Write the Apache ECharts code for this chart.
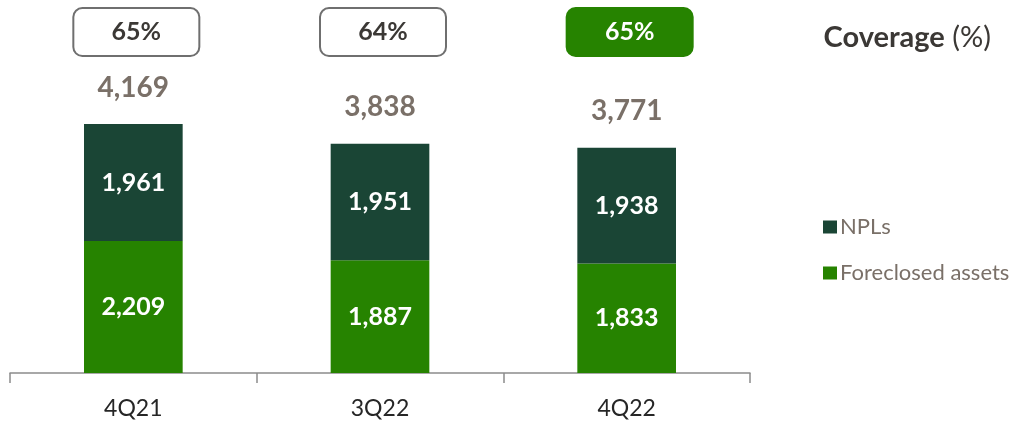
<!DOCTYPE html>
<html><head><meta charset="utf-8">
<script src="https://cdn.jsdelivr.net/npm/echarts@6/dist/echarts.min.js"></script>
<style>html,body{margin:0;padding:0;background:#fff}#c{width:1012px;height:426px}</style>
</head><body><div id="c"></div>
<script>
var categories = ['4Q21', '3Q22', '4Q22'];
var foreclosed = [2209, 1887, 1833];
var npls = [1961, 1951, 1938];
var totals = [4169, 3838, 3771];
var coverage = [65, 64, 65];
var coverageLevel = 5709;

var fmt = function (v) { return v.toLocaleString('en-US'); };
var chart = echarts.init(document.getElementById('c'));
var F = 'Lato, "Noto Sans", sans-serif';
chart.setOption({
  animation: false,
  textStyle: { fontFamily: F },
  title: {
    text: '{b|Coverage}{n| (%)}', right: 16, top: 18,
    textStyle: { rich: {
      b: { fontFamily: F, fontWeight: 'bold', fontSize: 29, color: '#3b3835' },
      n: { fontFamily: F, fontWeight: 'normal', fontSize: 29, color: '#3b3835' }
    } }
  },
  legend: {
    orient: 'vertical', left: 818, top: 211, itemWidth: 14, itemHeight: 13, itemGap: 24,
    icon: 'rect', data: ['NPLs', 'Foreclosed assets'],
    textStyle: { fontFamily: F, fontSize: 22, color: '#7a7068', padding: [0, 0, 0, -2] }
  },
  grid: { left: 10, right: 262, top: 26.6, bottom: 53 },
  xAxis: {
    type: 'category', data: categories,
    axisLine: { lineStyle: { color: '#8c8c8c', width: 1.5 } },
    axisTick: { show: true, length: 10, lineStyle: { color: '#8c8c8c', width: 1.5 } },
    axisLabel: { fontFamily: F, fontSize: 23, color: '#262626', margin: 24 }
  },
  yAxis: { type: 'value', min: 0, max: 5800, show: false, splitLine: { show: false } },
  series: [
    { name: 'Foreclosed assets', type: 'bar', stack: 't', data: foreclosed, barWidth: '40%',
      itemStyle: { color: '#268300' },
      label: { show: true, position: 'inside', color: '#fff', fontFamily: F, fontWeight: 'bold', fontSize: 25,
        formatter: function (p) { return fmt(p.value); } } },
    { name: 'NPLs', type: 'bar', stack: 't', data: npls, barWidth: '40%',
      itemStyle: { color: '#1a4535' },
      label: { show: true, position: 'inside', color: '#fff', fontFamily: F, fontWeight: 'bold', fontSize: 25,
        formatter: function (p) { return fmt(p.value); } } },
    { name: 'Total', type: 'scatter', data: totals.map(function (v, i) { return [i, v]; }),
      symbolSize: 1, itemStyle: { opacity: 1, color: 'transparent' }, z: 5,
      label: { show: true, position: 'top', distance: 22, color: '#7a7068', fontFamily: F, fontWeight: 'bold', fontSize: 28,
        formatter: function (p) { return fmt(totals[p.dataIndex]); } } },
    { name: 'Coverage', type: 'scatter', symbolSize: 1, clip: false, itemStyle: { opacity: 1, color: 'transparent' },
      data: coverage.map(function (v, i) { return [i, coverageLevel]; }),
      label: { show: true, position: 'inside', offset: [3, 0],
        formatter: function (p) { return '{' + (p.dataIndex === 2 ? 'g' : 'w') + '|' + coverage[p.dataIndex] + '%}'; },
        rich: {
          w: { fontFamily: F, fontWeight: 'bold', fontSize: 25, color: '#3b3835', backgroundColor: '#fff',
               borderColor: '#6f6f6f', borderWidth: 2, borderRadius: 8, width: 124, height: 46, align: 'center' },
          g: { fontFamily: F, fontWeight: 'bold', fontSize: 25, color: '#fff', backgroundColor: '#268300',
               borderColor: '#268300', borderWidth: 2, borderRadius: 8, width: 124, height: 46, align: 'center' }
        } } }
  ]
});
</script></body></html>
